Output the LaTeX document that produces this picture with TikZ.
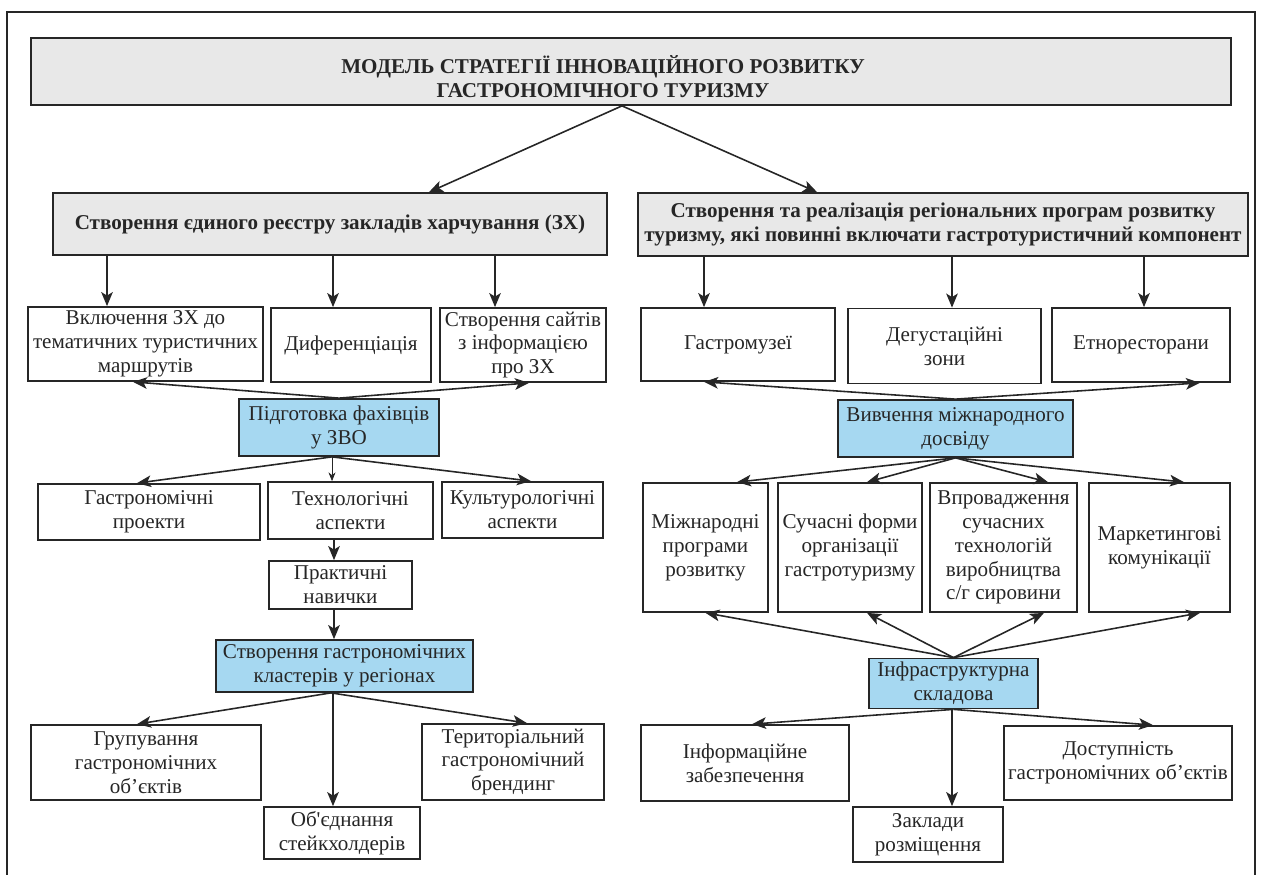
\documentclass[tikz,border=0pt]{standalone}
\usepackage{fontspec}
\setmainfont{Liberation Serif}[Ligatures=TeXOff]
\usepackage{xcolor}
\usetikzlibrary{arrows.meta,positioning}

\definecolor{hubblue}{RGB}{166,216,241}
\definecolor{headgray}{RGB}{232,232,232}
\definecolor{ink}{RGB}{38,38,38}
\newcommand{\boxfont}{\fontsize{12}{13.6}\selectfont}

\begin{document}
\begin{tikzpicture}[
				x = 0.02cm, y = -0.02cm, % pixel grid of the scan
				> = {Stealth[length=8pt,width=6.6pt,inset=2pt]}, % arrow head style
				line width = 0.9pt, % line style
				draw = ink,
				font = \boxfont
			]
			
			\tikzstyle{box}=[
			draw = ink,
			line width = 1pt,
			fill = white,
			align = center,
			inner sep = 1pt,
			text = ink
			]
			\tikzstyle{head}=[box, fill = headgray, font = \boxfont\bfseries]
			\tikzstyle{hub}=[box, fill = hubblue]
			
			\useasboundingbox (0,0) rectangle (1261,875);
			\draw[line width = 1pt] (7,875) |- (1255,12) -- (1255,875);
			
			\node[head, minimum width = 24cm, minimum height = 1.34cm,
				label = {[font = \boxfont\bfseries, align = center, text = ink, xshift = -0.56cm, yshift = -0.1cm]center:МОДЕЛЬ СТРАТЕГІЇ ІННОВАЦІЙНОГО РОЗВИТКУ\\ГАСТРОНОМІЧНОГО ТУРИЗМУ}] (title) at (631,71.5) {};
			
			\node[head, minimum width = 11.08cm, minimum height = 1.24cm] (lreg) at (330,224) {Створення єдиного реєстру закладів харчування (ЗХ)};
			\node[head, minimum width = 12.2cm, minimum height = 1.26cm, inner xsep = 0pt] (rreg) at (943,224.5) {Створення та реалізація регіональних програм розвитку\\туризму, які повинні включати гастротуристичний компонент};
			
			% left branch
			\node[box, minimum width = 4.7cm, minimum height = 1.48cm] (incl) at (145.5,344) {Включення ЗХ до\\тематичних туристичних\\маршрутів};
			\node[box, minimum width = 3.2cm, minimum height = 1.48cm] (diff) at (351,345) {Диференціація};
			\node[box, minimum width = 3.32cm, minimum height = 1.48cm] (sites) at (523,345) {Створення сайтів\\з інформацією\\про ЗХ};
			\node[hub, minimum width = 4cm, minimum height = 1.14cm] (prep) at (339,427.5) {Підготовка фахівців\\у ЗВО};
			\node[box, minimum width = 4.44cm, minimum height = 1.12cm] (gpro) at (149,512) {Гастрономічні\\проекти};
			\node[box, minimum width = 3.3cm, minimum height = 1.14cm] (tech) at (350.5,510.5) {Технологічні\\аспекти};
			\node[box, minimum width = 3.22cm, minimum height = 1.12cm] (cult) at (522.5,510) {Культурологічні\\аспекти};
			\node[box, minimum width = 2.86cm, minimum height = 0.96cm] (pract) at (340.5,585) {Практичні\\навички};
			\node[hub, minimum width = 5.14cm, minimum height = 1.04cm] (clust) at (344.5,666) {Створення гастрономічних\\кластерів у регіонах};
			\node[box, minimum width = 4.6cm, minimum height = 1.5cm] (group) at (146,762.5) {Групування\\гастрономічних\\об’єктів};
			\node[box, minimum width = 3.12cm, minimum height = 1.04cm] (stake) at (342,833) {Об'єднання\\стейкхолдерів};
			\node[box, minimum width = 3.64cm, minimum height = 1.52cm] (brand) at (513,762) {Територіальний\\гастрономічний\\брендинг};
			
			% right branch
			\node[box, minimum width = 3.88cm, minimum height = 1.46cm] (gmus) at (738,344.5) {Гастромузеї};
			\node[box, minimum width = 3.86cm, minimum height = 1.5cm] (degus) at (944.5,346) {Дегустаційні\\зони};
			\node[box, minimum width = 3.56cm, minimum height = 1.48cm] (ethno) at (1141,345) {Етноресторани};
			\node[hub, minimum width = 4.7cm, minimum height = 1.14cm] (study) at (955.5,428.5) {Вивчення міжнародного\\досвіду};
			\node[box, minimum width = 2.5cm, minimum height = 2.58cm] (intl) at (705.5,547.5) {Міжнародні\\програми\\розвитку};
			\node[box, minimum width = 2.88cm, minimum height = 2.58cm] (modern) at (850,547.5) {Сучасні форми\\організації\\гастротуризму};
			\node[box, minimum width = 2.94cm, minimum height = 2.58cm] (prod) at (1003.5,547.5) {Впровадження\\сучасних\\технологій\\виробництва\\с/г сировини};
			\node[box, minimum width = 2.82cm, minimum height = 2.58cm] (mark) at (1159.5,547.5) {Маркетингові\\комунікації};
			\node[hub, minimum width = 3.38cm, minimum height = 1.0cm] (infra) at (953.5,683.5) {Інфраструктурна\\складова};
			\node[box, minimum width = 4.16cm, minimum height = 1.52cm] (info) at (745,763) {Інформаційне\\забезпечення};
			\node[box, minimum width = 3cm, minimum height = 1.1cm] (stay) at (928,834.5) {Заклади\\розміщення};
			\node[box, minimum width = 4.56cm, minimum height = 1.48cm] (access) at (1118,763) {Доступність\\гастрономічних об’єктів};
			
			% arrows
			\path[->] ([xshift=-0.18cm]title.south) edge ([xshift=1.98cm]lreg.north);
			\path[->] ([xshift=-0.18cm]title.south) edge ([xshift=-2.52cm]rreg.north);
			
			\path[->] ([xshift=-0.77cm]incl.north |- lreg.south) edge ([xshift=-0.77cm]incl.north);
			\path[->] ([xshift=-0.36cm]diff.north |- lreg.south) edge ([xshift=-0.36cm]diff.north);
			\path[->] ([xshift=-0.56cm]sites.north |- lreg.south) edge ([xshift=-0.56cm]sites.north);
			
			\path[->] (prep.north) edge ([xshift=-0.25cm]incl.south);
			\path[->] (prep.north) edge ([xshift=0.12cm]sites.south);
			\path[->] ([xshift=-0.14cm]prep.south) edge ([xshift=-0.24cm]gpro.north);
			\path[->] ([xshift=-0.14cm]prep.south) edge ([xshift=0.17cm]cult.north);
			\path[->, line width = 0.4pt, > = {Stealth[length=5pt,width=4pt]}] ([xshift=-0.37cm]tech.north |- prep.south) edge ([xshift=-0.37cm]tech.north);
			
			\path[->] ([xshift=-0.13cm]pract.north |- tech.south) edge ([xshift=-0.13cm]pract.north);
			\path[->] ([xshift=-0.21cm]clust.north |- pract.south) edge ([xshift=-0.21cm]clust.north);
			
			\path[->] ([xshift=-0.27cm]clust.south) edge ([xshift=-0.18cm]group.north);
			\path[->] ([xshift=-0.27cm]clust.south) edge ([xshift=0.28cm]brand.north);
			\path[->] ([xshift=-0.18cm]stake.north |- clust.south) edge ([xshift=-0.18cm]stake.north);
			
			\path[->] ([xshift=-0.68cm]gmus.north |- rreg.south) edge ([xshift=-0.68cm]gmus.north);
			\path[->] ([xshift=0.15cm]degus.north |- rreg.south) edge ([xshift=0.15cm]degus.north);
			\path[->] ([xshift=0.06cm]ethno.north |- rreg.south) edge ([xshift=0.06cm]ethno.north);
			
			\path[->] (study.north) edge ([xshift=-0.68cm]gmus.south);
			\path[->] (study.north) edge ([xshift=1.18cm]ethno.south);
			\path[->] (study.south) edge ([xshift=0.63cm]intl.north);
			\path[->] (study.south) edge ([xshift=0.34cm]modern.north);
			\path[->] (study.south) edge ([xshift=0.89cm]prod.north);
			\path[->] (study.south) edge ([xshift=0.49cm]mark.north);
			
			\path[->] (infra.north) edge (intl.south);
			\path[->] (infra.north) edge ([xshift=0.34cm]modern.south);
			\path[->] (infra.north) edge ([xshift=0.81cm]prod.south);
			\path[->] (infra.north) edge ([xshift=0.81cm]mark.south);
			
			\path[->] (infra.south) edge ([xshift=0.14cm]info.north);
			\path[->] (infra.south) edge ([xshift=0.7cm]access.north);
			\path[->] ([xshift=0.48cm]stay.north |- infra.south) edge ([xshift=0.48cm]stay.north);
		\end{tikzpicture}
\end{document}
